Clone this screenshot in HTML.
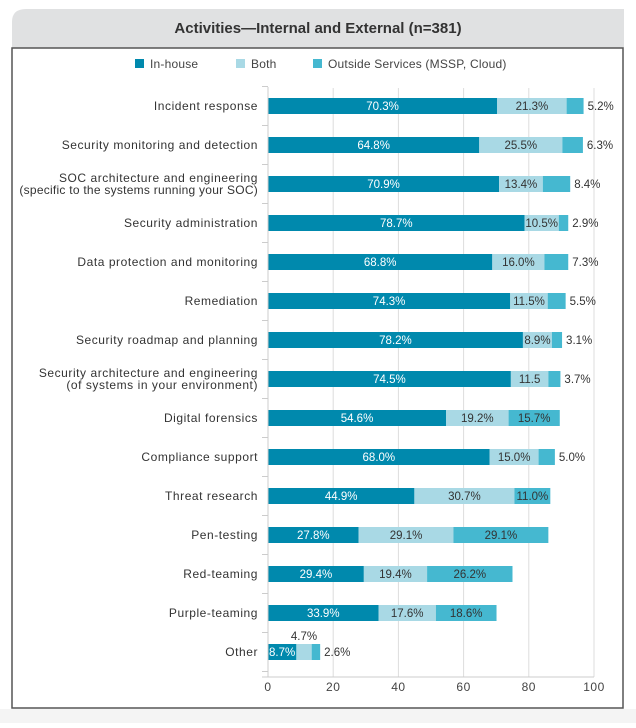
<!DOCTYPE html>
<html><head><meta charset="utf-8"><style>
body{margin:0;background:#fff;width:636px;height:723px;overflow:hidden;font-family:"Liberation Sans",sans-serif}
</style></head><body>
<svg width="636" height="723" xmlns="http://www.w3.org/2000/svg">
<rect x="0" y="709" width="636" height="14" fill="#f4f4f4"/>
<path d="M12,48 L12,22 Q12,9 26,9 L624,9 L624,48 Z" fill="#e0e1e2"/>
<text x="318" y="33" text-anchor="middle" font-size="15" font-weight="bold" fill="#333">Activities—Internal and External (n=381)</text>
<rect x="12" y="48" width="611" height="660" fill="#fff" stroke="#555" stroke-width="1.5"/>
<g id="legend"></g>
<g id="grid"></g><g id="bars"></g><g id="axis"></g>
</svg>
<script>
const categories=["Incident response","Security monitoring and detection","SOC architecture and engineering|(specific to the systems running your SOC)","Security administration","Data protection and monitoring","Remediation","Security roadmap and planning","Security architecture and engineering|(of systems in your environment)","Digital forensics","Compliance support","Threat research","Pen-testing","Red-teaming","Purple-teaming","Other"];
const inHouse=[70.3,64.8,70.9,78.7,68.8,74.3,78.2,74.5,54.6,68.0,44.9,27.8,29.4,33.9,8.7];
const both=[21.3,25.5,13.4,10.5,16.0,11.5,8.9,11.5,19.2,15.0,30.7,29.1,19.4,17.6,4.7];
const outside=[5.2,6.3,8.4,2.9,7.3,5.5,3.1,3.7,15.7,5.0,11.0,29.1,26.2,18.6,2.6];
const bothLabels=["21.3%","25.5%","13.4%","10.5%","16.0%","11.5%","8.9%","11.5","19.2%","15.0%","30.7%","29.1%","19.4%","17.6%","4.7%"];
const ticks=[0,20,40,60,80,100];
const series=["In-house","Both","Outside Services (MSSP, Cloud)"];
const colors=["#0089ad","#a9d9e5","#45b8d0"];
const NS="http://www.w3.org/2000/svg";
const x=v=>268+v*3.26;
const y=i=>106+i*39;
function el(t,a,p,txt){const e=document.createElementNS(NS,t);for(const k in a)e.setAttribute(k,a[k]);if(txt!==undefined)e.textContent=txt;p.appendChild(e);return e;}
const G=document.getElementById('grid'),B=document.getElementById('bars'),A=document.getElementById('axis'),L=document.getElementById('legend');
const lx=[135,236,313];
series.forEach((s,i)=>{
 const r=el('rect',{x:lx[i],y:59,width:9,height:9,fill:colors[i]},L);
 
 
 const t=el('text',{x:lx[i]+15,y:68,'font-size':12,fill:'#444','letter-spacing':0.2},L,s);
 
 
});
ticks.forEach(t=>{
 if(t>0){const g=el('line',{x1:x(t),x2:x(t),y1:88,y2:677,stroke:'#ddd','stroke-width':1},G);
 
 }
 const tl=el('text',{x:x(t),y:691,'font-size':12,fill:'#444','text-anchor':'middle','letter-spacing':0.5},A,t);
 
 
});
const ax=el('line',{x1:268,x2:268,y1:87,y2:677,stroke:'#ccc'},A);


const bx=el('line',{x1:262,x2:594,y1:677,y2:677,stroke:'#ccc'},A);


for(let i=0;i<=categories.length;i++){el('line',{x1:262,x2:268,y1:y(i)-19.5,y2:y(i)-19.5,stroke:'#ccc'},A);}
categories.forEach((c,i)=>{
 const cy=y(i);const lines=c.split('|');
 lines.forEach((ln,k)=>{
  const ls=ln.length>38?0.25:0.55;
  const t=el('text',{x:258,y:cy+4+(lines.length>1?(k-0.5)*12:0),'font-size':12,fill:'#333','text-anchor':'end','letter-spacing':ls},A,ln);
  
  
 });
 const vals=[inHouse[i],both[i],outside[i]];let acc=0;
 vals.forEach((v,j)=>{
  const r=el('rect',{x:x(acc),y:cy-8,width:x(acc+v)-x(acc),height:16,fill:colors[j]},B);
  
  
  let lab=j==1?bothLabels[i]:v.toFixed(1)+'%';
  let tx=(x(acc)+x(acc+v))/2,ty=cy+4,anchor='middle';
  if(j==2&&v<9){tx=x(acc+v)+4;anchor='start';}
  if(j==1&&v<5){ty=cy-12;}
  if(j==0&&v<10){tx=x(acc)+1;anchor='start';}
  const t=el('text',{x:tx,y:ty,'font-size':11.5,fill:j==0?'#fff':'#333','text-anchor':anchor},B,lab);
  
  
  acc+=v;
 });
});
</script>
</body></html>
